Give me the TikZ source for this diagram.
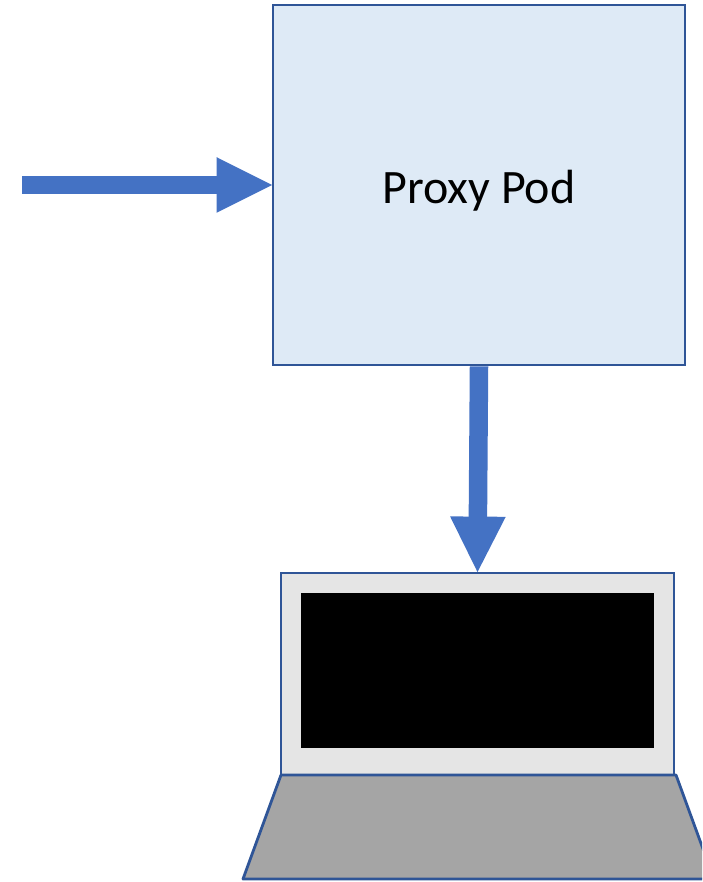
\documentclass[tikz,border=0pt]{standalone}
\usepackage{fontspec}
\setmainfont{Carlito}
\usetikzlibrary{arrows.meta}
\definecolor{podfill}{HTML}{DEEAF6}
\definecolor{podline}{HTML}{2F5597}
\definecolor{flowblue}{HTML}{4472C4}
\definecolor{bezel}{HTML}{E5E5E5}
\definecolor{deck}{HTML}{A5A5A5}
\tikzset{
  partbox/.style={draw=podline, line width=2.8pt, inner sep=0pt},
  flow/.style={draw=flowblue, line width=18.5pt, shorten >=-2pt, -{Triangle[length=57pt,width=51pt]}}
}

\begin{document}
\begin{tikzpicture}[x=1pt, y=-1pt]
  \useasboundingbox (0,0) rectangle (702,882);
  \clip (0,0) rectangle (702,882);
  \node (Pod) [partbox, fill=podfill, minimum width=412pt, minimum height=360pt, text height=37pt, text depth=0pt, font=\fontsize{48}{58}\selectfont] at (479,185) {Proxy Pod};
  \node (Screen) [partbox, fill=bezel, minimum width=393pt, minimum height=202pt] at (477.5,674) {};
  \node (Display) [fill=black, inner sep=0pt, minimum width=353pt, minimum height=155pt] at (477.5,670.5) {};
  \coordinate (In) at (22,185);
  \draw[draw=podline, fill=deck, line width=2.8pt, line join=round] (281,775) -- (676,775) -- (714,879) -- (243,879) -- cycle;
  \draw[flow] (In) -- (Pod.west);
  \draw[flow] (Pod.south) -- (Screen.north);
\end{tikzpicture}
\end{document}
